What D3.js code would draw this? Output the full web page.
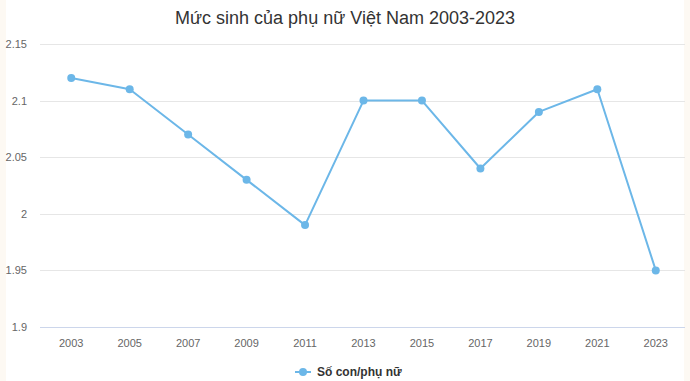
<!DOCTYPE html>
<html>
<head>
<meta charset="utf-8">
<script src="https://cdn.jsdelivr.net/npm/d3@7"></script>
<style>
  body { margin: 0; background: #fff; }
  svg { display: block; font-family: "Liberation Sans", Arial, sans-serif; }
</style>
</head>
<body>
<svg id="chart" width="690" height="381"></svg>
<script>
// data
const years = ["2003", "2005", "2007", "2009", "2011", "2013", "2015", "2017", "2019", "2021", "2023"];
const births = [2.12, 2.11, 2.07, 2.03, 1.99, 2.10, 2.10, 2.04, 2.09, 2.11, 1.95];
const yTicks = [1.9, 1.95, 2, 2.05, 2.1, 2.15];
const seriesName = "Số con/phụ nữ";
const titleText = "Mức sinh của phụ nữ Việt Nam 2003-2023";

const W = 690, H = 381;
const plot = { left: 42, right: 685, top: 44, bottom: 327 };
const color = "#6cb7e8";

const svg = d3.select("#chart");

// faint side stripes
svg.append("rect").attr("x", 0).attr("y", 0).attr("width", 6).attr("height", H).attr("fill", "#fdf9f3");
svg.append("rect").attr("x", 684).attr("y", 0).attr("width", 6).attr("height", H).attr("fill", "#fdf9f3");

const x = d3.scaleBand()
    .domain(years)
    .range([plot.left, plot.right]);

const y = d3.scaleLinear()
    .domain([1.9, 2.15])
    .range([plot.bottom, plot.top]);

// title
svg.append("text")
    .attr("x", W / 2)
    .attr("y", 24)
    .attr("text-anchor", "middle")
    .attr("font-size", "18px")
    .attr("fill", "#333")
    .text(titleText);

// grid lines
svg.append("g")
    .selectAll("line")
    .data(yTicks)
    .enter().append("line")
    .attr("x1", plot.left - 2)
    .attr("x2", plot.right)
    .attr("y1", d => Math.round(y(d)) + 0.5)
    .attr("y2", d => Math.round(y(d)) + 0.5)
    .attr("stroke", d => d === 1.9 ? "#ccd6eb" : "#e6e6e6")
    .attr("stroke-width", 1);

// y labels
svg.append("g")
    .selectAll("text")
    .data(yTicks)
    .enter().append("text")
    .attr("x", 27)
    .attr("y", d => y(d) + 4)
    .attr("text-anchor", "end")
    .attr("font-size", "11px")
    .attr("fill", "#666")
    .text(d => d3.format("")(d));

// x labels
svg.append("g")
    .selectAll("text")
    .data(years)
    .enter().append("text")
    .attr("x", d => x(d) + x.bandwidth() / 2)
    .attr("y", 347)
    .attr("text-anchor", "middle")
    .attr("font-size", "11px")
    .attr("fill", "#666")
    .text(d => d);

// line
const pts = years.map((yr, i) => ({ yr, v: births[i] }));
const line = d3.line()
    .x(d => x(d.yr) + x.bandwidth() / 2)
    .y(d => y(d.v));

svg.append("path")
    .datum(pts)
    .attr("fill", "none")
    .attr("stroke", color)
    .attr("stroke-width", 2)
    .attr("stroke-linejoin", "round")
    .attr("d", line);

svg.append("g")
    .selectAll("circle")
    .data(pts)
    .enter().append("circle")
    .attr("cx", d => x(d.yr) + x.bandwidth() / 2)
    .attr("cy", d => y(d.v))
    .attr("r", 4)
    .attr("fill", color);

// legend
const lg = svg.append("g").attr("transform", "translate(295,372)");
lg.append("line")
    .attr("x1", 0).attr("x2", 16)
    .attr("y1", 0).attr("y2", 0)
    .attr("stroke", color).attr("stroke-width", 2);
lg.append("circle").attr("cx", 8).attr("cy", 0).attr("r", 4).attr("fill", color);
lg.append("text")
    .attr("x", 22)
    .attr("y", 4)
    .attr("font-size", "12px")
    .attr("font-weight", "bold")
    .attr("fill", "#333")
    .text(seriesName);
</script>
</body>
</html>
